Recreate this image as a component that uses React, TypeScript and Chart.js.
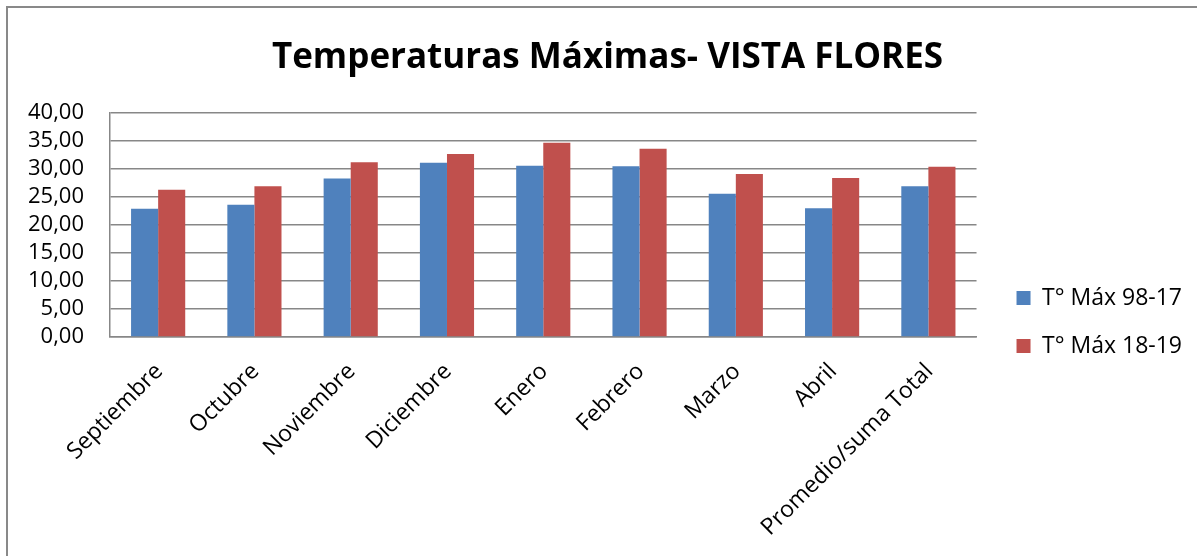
import React, { useEffect, useRef } from 'react';
import { Chart, registerables } from 'chart.js';

Chart.register(...registerables);

const titleText = 'Temperaturas Máximas- VISTA FLORES';
const categories = [
  'Septiembre',
  'Octubre',
  'Noviembre',
  'Diciembre',
  'Enero',
  'Febrero',
  'Marzo',
  'Abril',
  'Promedio/suma Total',
];
const seriesLabels = ['T° Máx 98-17', 'T° Máx 18-19'];
const maxTemp9817 = [22.9, 23.6, 28.3, 31.1, 30.6, 30.5, 25.6, 23.0, 26.9];
const maxTemp1819 = [26.3, 26.9, 31.2, 32.7, 34.7, 33.6, 29.1, 28.4, 30.4];
const yMin = 0;
const yMax = 40;
const yStep = 5;

const FONT = "'Open Sans', 'Noto Sans', sans-serif";
const GRID = '#878787';

const shiftBoxes = {
  id: 'shiftBoxes',
  afterLayout(chart: any) {
    const l = chart.legend;
    if (l) {
      l.left += 15;
      l.right += 15;
      l.top += 40;
      l.bottom += 40;
    }
    const t = chart.titleBlock;
    if (t) {
      t.left += 15;
      t.right += 15;
    }
  },
};

export default function App() {
  const ref = useRef<HTMLCanvasElement | null>(null);

  useEffect(() => {
    if (!ref.current) return;
    const chart = new Chart(ref.current, {
      type: 'bar',
      data: {
        labels: categories,
        datasets: [
          {
            label: seriesLabels[0],
            data: maxTemp9817,
            backgroundColor: '#4F81BD',
            borderWidth: 0,
            categoryPercentage: 0.5625,
            barPercentage: 1,
          },
          {
            label: seriesLabels[1],
            data: maxTemp1819,
            backgroundColor: '#C0504D',
            borderWidth: 0,
            categoryPercentage: 0.5625,
            barPercentage: 1,
          },
        ],
      },
      options: {
        animation: false,
        responsive: true,
        maintainAspectRatio: false,
        layout: { padding: { left: 0, right: 20, top: 0, bottom: 0 } },
        plugins: {
          title: {
            display: true,
            text: titleText,
            color: '#000',
            font: { family: FONT, size: 35, weight: 'bold' },
            padding: { top: 29, bottom: 34 },
          },
          legend: {
            position: 'right',
            labels: {
              color: '#000',
              boxWidth: 14,
              boxHeight: 14,
              padding: 25,
              font: { family: FONT, size: 23 },
            },
          },
          tooltip: { enabled: false },
        },
        scales: {
          x: {
            grid: { display: false, drawTicks: false },
            border: { display: true, color: GRID, width: 1.5 },
            ticks: {
              color: '#000',
              font: { family: FONT, size: 23 },
              minRotation: 45,
              maxRotation: 45,
              autoSkip: false,
              padding: 21,
              labelOffset: 1,
            },
            afterFit(scale: any) {
              scale.height = 219;
            },
          },
          y: {
            min: yMin,
            max: yMax,
            grid: { color: GRID, lineWidth: 1.5, drawTicks: false },
            border: { display: true, color: GRID, width: 1.5 },
            ticks: {
              stepSize: yStep,
              autoSkip: false,
              color: '#000',
              font: { family: FONT, size: 22 },
              padding: 26,
              callback: (v: any) => Number(v).toFixed(2).replace('.', ','),
            },
            afterFit(scale: any) {
              scale.width = 102;
            },
          },
        },
      },
      plugins: [shiftBoxes],
    });
    return () => chart.destroy();
  }, []);

  return (
    <>
      <div style={{ position: 'relative', width: 1189, height: 548, background: '#fff' }}>
        <canvas ref={ref} />
      </div>
      <div
        style={{
          position: 'fixed',
          left: 6,
          top: 6,
          width: 1300,
          height: 700,
          borderLeft: '2px solid #898989',
          borderTop: '2px solid #898989',
          pointerEvents: 'none',
        }}
      />
    </>
  );
}
